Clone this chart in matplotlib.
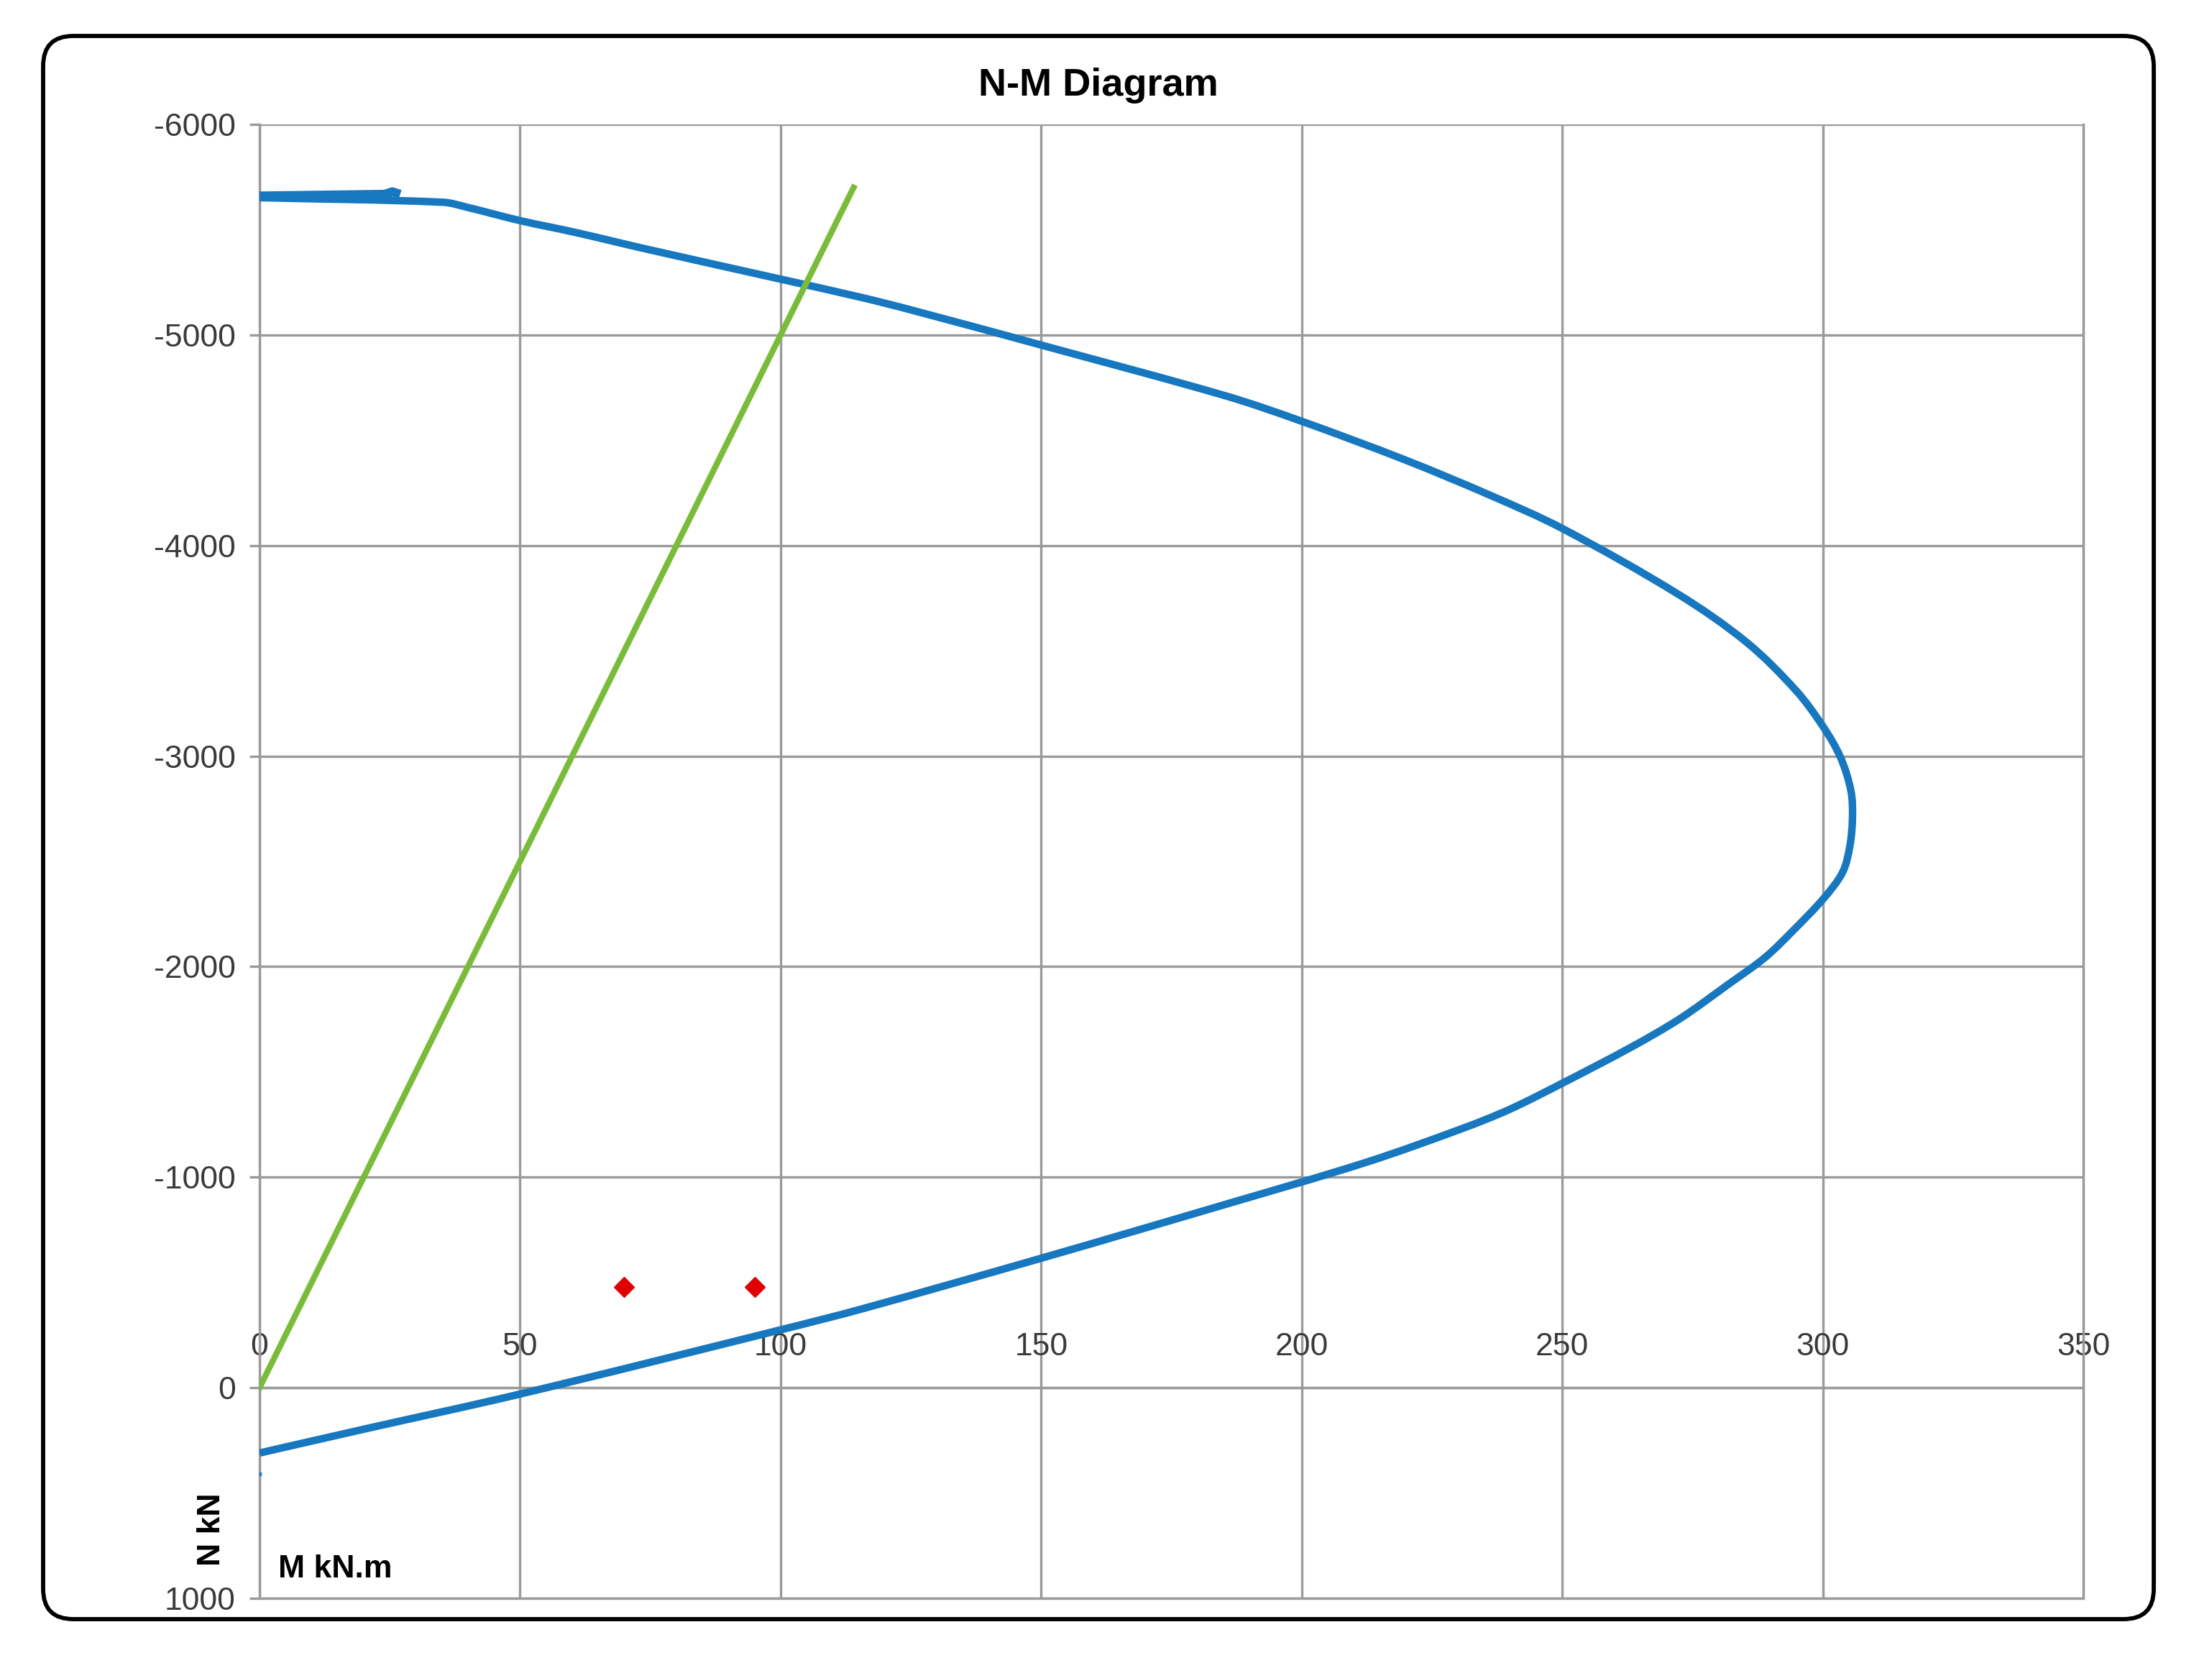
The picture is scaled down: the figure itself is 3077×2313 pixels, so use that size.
import numpy as np
import matplotlib.pyplot as plt
from matplotlib.patches import FancyBboxPatch, PathPatch
from matplotlib.path import Path

# N-M interaction curve (M in kN.m, N in kN, compression negative)
m_curve = [0, 35.3, 39.9, 50.0, 60.6, 74.4, 100.0, 115.7, 125.0, 150.0, 185.5, 200.0,
           220.0, 236.5, 250.0, 272.3, 285.4, 294.8, 300.0, 303.4, 305.4, 305.7,
           305.2, 303.8, 300.1, 294.5, 289.0, 282.0, 272.6, 263.2, 250.0, 239.9, 230.7,
           212.3, 184.7, 150.0, 115.7, 100.0, 50.0, 20.0, 0]
n_curve = [-5652, -5630, -5606, -5543, -5487, -5407, -5265, -5177, -5119, -4952, -4710, -4590,
           -4405, -4235, -4081, -3768, -3540, -3313, -3142, -2994, -2835, -2709,
           -2573, -2448, -2322, -2176, -2045, -1918, -1753, -1617, -1446, -1322, -1230,
           -1070, -866, -615, -375, -275, 30, 197, 310]

# short overlapping piece at the top of the curve
m_cap = [0, 24.0, 25.5, 27.0]
n_cap = [-5660, -5668, -5680, -5668]

# lone point under the curve start
m_dot = [0]
n_dot = [410]

# eccentricity line
m_line = [0, 114]
n_line = [0, -5700]

# load cases
m_load = [70, 95]
n_load = [-480, -480]

x_ticks = [0, 50, 100, 150, 200, 250, 300, 350]
y_ticks = [-6000, -5000, -4000, -3000, -2000, -1000, 0, 1000]


def smooth_path(xs, ys, sx, sy):
    # smoothed line through the points, tangents scaled by chord length
    p = np.column_stack([np.asarray(xs) * sx, np.asarray(ys) * sy])
    n = len(p)
    d = np.zeros_like(p)
    for i in range(n):
        a = p[max(i - 1, 0)]
        b = p[min(i + 1, n - 1)]
        v = b - a
        d[i] = v / np.hypot(*v)
    verts = [p[0]]
    codes = [Path.MOVETO]
    for i in range(n - 1):
        L = np.hypot(*(p[i + 1] - p[i]))
        verts += [p[i] + d[i] * L / 3, p[i + 1] - d[i + 1] * L / 3, p[i + 1]]
        codes += [Path.CURVE4] * 3
    verts = np.array(verts) / np.array([sx, sy])
    return Path(verts, codes)


W, H = 3077, 2313
fig = plt.figure(figsize=(W / 100, H / 100), dpi=100)
fig.patch.set_facecolor('white')

# rounded chart border
border = FancyBboxPatch((0.60, 0.61), 29.36, 22.02,
                        boxstyle='round,pad=0,rounding_size=0.42',
                        transform=fig.dpi_scale_trans, facecolor='none',
                        edgecolor='black', linewidth=4.2, zorder=0)
fig.patches.append(border)

ax = fig.add_axes([361 / W, 1 - 2223 / H, (2898 - 361) / W, (2223 - 173) / H])

grid_col = '#9a9a9a'
txt_col = '#3a3a3a'
blue = '#1777bf'
green = '#7abc3a'
red = '#e00000'

# pixel-proportional scaling so the smoothing follows the drawn shape
sx = (2898 - 361) / 350.0
sy = (2223 - 173) / 7000.0
curve = PathPatch(smooth_path(m_curve, n_curve, sx, sy), facecolor='none', edgecolor=blue,
                  linewidth=7.5, joinstyle='round', capstyle='butt', zorder=3)
ax.add_patch(curve)
ax.plot(m_cap, n_cap, color=blue, linewidth=9, solid_capstyle='butt',
        solid_joinstyle='round', zorder=3)
ax.plot(m_dot, n_dot, 's', color=blue, markersize=3.5, zorder=3)
ax.plot(m_line, n_line, color=green, linewidth=6, zorder=4)
ax.plot(m_load, n_load, 'D', color=red, markersize=14, linestyle='none', zorder=5)

ax.set_xlim(0, 350)
ax.set_ylim(1000, -6000)
ax.set_xticks(x_ticks)
ax.set_yticks(y_ticks)
ax.set_yticklabels([str(v) for v in y_ticks])

ax.set_axisbelow(True)
ax.grid(True, color=grid_col, linewidth=2.4)

for s in ax.spines.values():
    s.set_color(grid_col)
    s.set_linewidth(2.4)

# x axis crosses at N = 0, labels above it
ax.xaxis.set_ticks_position('top')
ax.spines['top'].set_position(('data', 0))
ax.tick_params(axis='x', length=0, pad=26, labelsize=32, labelcolor=txt_col)
ax.tick_params(axis='y', direction='out', length=10, width=2.4, color=grid_col,
               pad=14, labelsize=32, labelcolor=txt_col)
for lab in ax.get_xticklabels() + ax.get_yticklabels():
    lab.set_fontfamily('Liberation Sans')

fig.text(1528 / W, 1 - 119 / H, 'N-M Diagram', ha='center', va='center',
         fontsize=39, fontweight='bold', family='Liberation Sans', color='black')
fig.text(294 / W, 1 - 2127 / H, 'N kN', ha='center', va='center', rotation=90,
         fontsize=32, fontweight='bold', family='Liberation Sans', color='black')
fig.text(387 / W, 1 - 2182 / H, 'M kN.m', ha='left', va='center',
         fontsize=32, fontweight='bold', family='Liberation Sans', color='black')

fig.savefig('out.png', dpi=100)
